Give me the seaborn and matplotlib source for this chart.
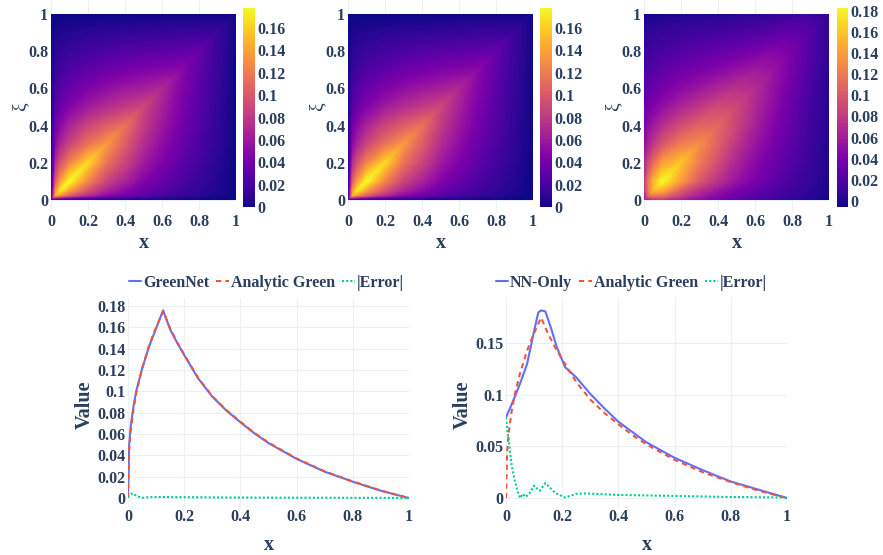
import numpy as np
import matplotlib.pyplot as plt
import matplotlib.tri as mtri
from matplotlib.ticker import MultipleLocator, FuncFormatter
import seaborn as sns

# grid nodes used for both x and xi in the maps
nodes = [0, 0.025, 0.05, 0.1, 0.2, 0.3, 0.4, 0.5, 0.6, 0.7, 0.8, 0.9, 1.0]

# G(x, xi), rows = xi, cols = x
analytic_map = [
    [0, 0, 0, 0, 0, 0, 0, 0, 0, 0, 0, 0, 0],
    [0, .143, .129, .101, .071, .050, .038, .027, .019, .013, .008, .004, 0],
    [0, .129, .170, .134, .094, .066, .050, .035, .026, .017, .011, .005, 0],
    [0, .101, .134, .178, .123, .086, .066, .046, .034, .023, .014, .006, 0],
    [0, .071, .094, .123, .163, .114, .087, .061, .044, .030, .019, .008, 0],
    [0, .050, .066, .086, .114, .134, .102, .072, .052, .036, .022, .010, 0],
    [0, .038, .050, .066, .087, .102, .114, .081, .059, .040, .025, .011, 0],
    [0, .027, .035, .046, .061, .072, .081, .088, .064, .044, .027, .012, 0],
    [0, .019, .026, .034, .044, .052, .059, .064, .069, .047, .029, .013, 0],
    [0, .013, .017, .023, .030, .036, .040, .044, .047, .050, .031, .014, 0],
    [0, .008, .011, .014, .019, .022, .025, .027, .029, .031, .033, .015, 0],
    [0, .004, .005, .006, .008, .010, .011, .012, .013, .014, .015, .015, 0],
    [0, 0, 0, 0, 0, 0, 0, 0, 0, 0, 0, 0, 0],
]
greennet_map = analytic_map  # no visible difference at this scale

nn_map = [
    [.045, .060, .072, .075, .060, .048, .037, .027, .019, .012, .006, .001, -.006],
    [.060, .110, .120, .115, .085, .062, .047, .034, .024, .016, .009, .003, -.004],
    [.070, .120, .150, .145, .100, .072, .054, .039, .028, .019, .011, .004, -.003],
    [.078, .120, .150, .183, .138, .098, .074, .054, .039, .026, .016, .007, -.002],
    [.065, .090, .110, .140, .158, .120, .091, .065, .047, .032, .020, .009, -.001],
    [.050, .065, .077, .097, .122, .130, .104, .076, .055, .038, .024, .011, 0],
    [.040, .050, .058, .072, .092, .106, .108, .086, .062, .043, .027, .012, 0],
    [.030, .036, .042, .051, .066, .078, .090, .088, .068, .048, .030, .014, .001],
    [.022, .026, .030, .037, .047, .056, .066, .074, .070, .052, .033, .016, .002],
    [.015, .018, .021, .026, .033, .039, .045, .052, .058, .054, .037, .018, .003],
    [.009, .011, .013, .016, .021, .025, .029, .033, .038, .044, .038, .021, .004],
    [.004, .005, .006, .008, .010, .012, .014, .016, .019, .023, .028, .022, .005],
    [-.005, -.004, -.003, -.002, 0, .001, .002, .003, .005, .007, .011, .012, .006],
]

# slices at xi = 0.125
x_slice = [0, 0.004, 0.01, 0.02, 0.03, 0.05, 0.075, 0.1, 0.125, 0.15, 0.175, 0.2,
           0.25, 0.3, 0.35, 0.4, 0.45, 0.5, 0.6, 0.7, 0.8, 0.9, 1.0]
analytic = [0, 0.045, 0.064, 0.084, 0.099, 0.121, 0.143, 0.160, 0.175, 0.159, 0.146, 0.1345,
            0.1125, 0.0955, 0.0825, 0.0715, 0.061, 0.052, 0.037, 0.025, 0.0155, 0.007, 0]
greennet = [0.001, 0.049, 0.068, 0.087, 0.101, 0.121, 0.142, 0.159, 0.176, 0.158, 0.1455, 0.134,
            0.112, 0.095, 0.082, 0.071, 0.0606, 0.0515, 0.0367, 0.0247, 0.0153, 0.0068, 0]
greennet_err = [0.001, 0.003, 0.004, 0.004, 0.002, 0.0002, 0.0008, 0.001, 0.001, 0.0009, 0.0008,
                0.0008, 0.0007, 0.0006, 0.0005, 0.0005, 0.0004, 0.0004, 0.0003, 0.0003,
                0.0002, 0.0002, 0.0001]

x_nn = [0, 0.025, 0.05, 0.075, 0.1, 0.115, 0.125, 0.14, 0.16, 0.18, 0.21,
        0.25, 0.3, 0.35, 0.4, 0.5, 0.6, 0.7, 0.8, 0.9, 1.0]
nn_only = [0.078, 0.094, 0.111, 0.130, 0.162, 0.180, 0.182, 0.181, 0.165, 0.147, 0.127,
           0.117, 0.101, 0.087, 0.074, 0.054, 0.039, 0.027, 0.016, 0.008, 0]

x_err = [0, 0.01, 0.02, 0.03, 0.04, 0.05, 0.06, 0.07, 0.085, 0.1, 0.12, 0.14,
         0.175, 0.21, 0.25, 0.28, 0.4, 0.5, 0.6, 0.7, 0.8, 0.9, 1.0]
nn_err = [0.078, 0.055, 0.032, 0.018, 0.008, 0.0, 0.004, 0.001, 0.005, 0.012, 0.007, 0.0145,
          0.005, 0.0005, 0.004, 0.0045, 0.003, 0.0025, 0.002, 0.0015, 0.001, 0.0008, 0.0005]

TXT = "#2a3f5f"
GRID = "#EBF0F8"
W, H = 883, 555

sns.set_theme(style="white")
plt.rcParams["font.family"] = ["Liberation Serif", "DejaVu Serif"]
plt.rcParams["font.weight"] = "bold"
plt.rcParams["axes.labelweight"] = "bold"

fig = plt.figure(figsize=(W / 100, H / 100), dpi=100)


def box(l, r, t, b):
    return [l / W, 1 - b / H, (r - l) / W, (b - t) / H]


fmt = FuncFormatter(lambda v, p: f"{round(v, 6):g}")


def style_axes(ax):
    for s in ax.spines.values():
        s.set_visible(False)
    ax.grid(True, color=GRID, lw=0.8)
    ax.set_axisbelow(True)
    ax.tick_params(length=0, labelsize=11.5, labelcolor=TXT)
    ax.tick_params(axis="y", pad=2)
    ax.tick_params(axis="x", pad=1.5)
    ax.xaxis.set_major_locator(MultipleLocator(0.2))
    ax.xaxis.set_major_formatter(fmt)
    ax.yaxis.set_major_formatter(fmt)


def draw_map(pos, cpos, z):
    ax = fig.add_axes(box(*pos))
    cax = fig.add_axes(box(*cpos))
    n = len(nodes)
    X, Y = np.meshgrid(nodes, nodes)
    tris = []
    for i in range(n - 1):
        for j in range(n - 1):
            k = i * n + j
            tris.append([k, k + 1, k + n + 1])
            tris.append([k, k + n + 1, k + n])
    tri = mtri.Triangulation(X.ravel(), Y.ravel(), tris)
    zz = np.ravel(z)
    cs = ax.tricontourf(tri, zz, levels=np.linspace(zz.min(), zz.max(), 150),
                        cmap="plasma", antialiased=False)
    ax.set_xlim(0, 1)
    ax.set_ylim(-12 / 186, 1 + 14 / 186)
    style_axes(ax)
    ax.yaxis.set_major_locator(MultipleLocator(0.2))
    ax.set_xlabel("x", fontsize=14.5, color=TXT)
    ax.xaxis.set_label_coords(0.5, -0.146)
    ax.xaxis.label.set_va("center")
    ax.set_ylabel("ξ", fontsize=14, color=TXT, fontweight="normal")
    ax.yaxis.set_label_coords(-0.17, 0.495)
    ax.yaxis.label.set_va("center")

    cb = fig.colorbar(cs, cax=cax)
    cb.outline.set_visible(False)
    cb.locator = MultipleLocator(0.02)
    cb.formatter = fmt
    cb.update_ticks()
    cax.tick_params(length=0, labelsize=11.5, labelcolor=TXT, pad=2)


draw_map((51, 236, 0, 212), (243, 255, 8, 207), greennet_map)
draw_map((348, 533, 0, 212), (540, 552, 8, 207), analytic_map)
draw_map((644, 829, 0, 212), (837, 848, 8, 207), nn_map)


def draw_slice(pos, x_main, y_main, main_label, x_e, y_e, ylim, ystep, leg_x):
    ax = fig.add_axes(box(*pos))
    sns.lineplot(x=x_main, y=y_main, ax=ax, color="#636efa", linewidth=1.5,
                 label=main_label)
    sns.lineplot(x=x_slice, y=analytic, ax=ax, color="#EF553B", linewidth=1.5,
                 linestyle=(0, (2.5, 2)), label="Analytic Green")
    sns.lineplot(x=x_e, y=y_e, ax=ax, color="#00cc96", linewidth=1.5,
                 linestyle=(0, (1, 1)), label="|Error|")
    ax.set_xlim(0, 1)
    ax.set_ylim(*ylim)
    style_axes(ax)
    ax.yaxis.set_major_locator(MultipleLocator(ystep))
    ax.set_xlabel("x", fontsize=14.5, color=TXT)
    ax.xaxis.set_label_coords(0.5, -0.182)
    ax.xaxis.label.set_va("center")
    ax.set_ylabel("Value", fontsize=14.5, color=TXT)
    ax.yaxis.set_label_coords(-0.153, 0.488)
    ax.yaxis.label.set_va("center")
    ax.legend(loc="center", bbox_to_anchor=(leg_x, 1.072), ncol=3, frameon=False,
              handlelength=0.8, handletextpad=0.1, columnspacing=0.45,
              fontsize=11.5, labelcolor=TXT, borderpad=0, borderaxespad=0)


draw_slice((128, 409, 298, 507), x_slice, greennet, "GreenNet", x_slice, greennet_err,
           (-0.0084, 0.1875), 0.02, 0.491)
draw_slice((506, 787, 298, 507), x_nn, nn_only, "NN-Only", x_err, nn_err,
           (-0.0087, 0.194), 0.05, 0.445)

fig.savefig("out.png", dpi=100)
